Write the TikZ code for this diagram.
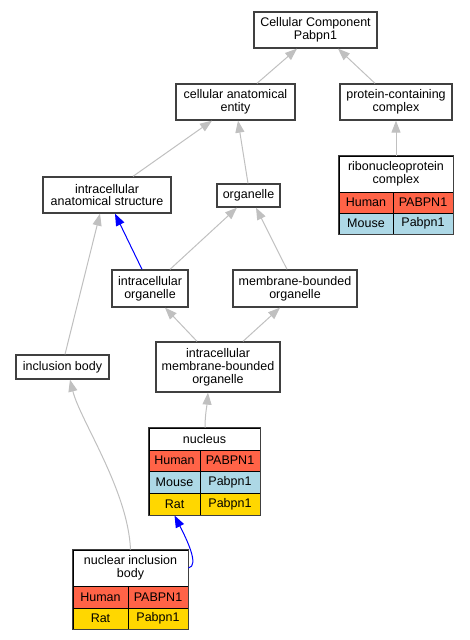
\documentclass[tikz,border=0pt]{standalone}
\usepackage{fontspec}
\setmainfont{Liberation Sans}
\usetikzlibrary{arrows.meta}
\definecolor{edgegray}{HTML}{C0C0C0}
\definecolor{boxborder}{HTML}{404040}
\definecolor{human}{HTML}{FF6347}
\definecolor{mouse}{HTML}{ADD8E6}
\definecolor{rat}{HTML}{FFD700}
\begin{document}
\begin{tikzpicture}[x=1pt,y=-1pt,
  every node/.style={font=\fontsize{12.5}{12.8}\selectfont, inner sep=0pt, align=center},
  box/.style={draw=boxborder, line width=1.3pt, fill=white, rectangle},
  cell/.style={draw=black, line width=0.9pt, rectangle},
  hdr/.style={cell, fill=white},
  hum/.style={cell, fill=human},
  mou/.style={cell, fill=mouse},
  ratc/.style={cell, fill=rat},
  outer/.style={draw=boxborder, line width=1.3pt},
  isa/.style={draw=edgegray, line width=1pt, -{Triangle[length=12pt,width=9pt]}},
  bl/.style={draw=blue, line width=1pt, -{Triangle[length=12pt,width=9pt]}}
]
\useasboundingbox (0,0) rectangle (469,640);

% plain boxes
\node[box, minimum width=123pt, minimum height=36pt] (cc) at (315.5,30) {Cellular Component\\Pabpn1};
\node[box, minimum width=119pt, minimum height=36pt] (cae) at (235.5,102) {cellular anatomical\\entity};
\node[box, minimum width=112pt, minimum height=36pt] (pcc) at (396,102) {protein-containing\\complex};
\node[box, minimum width=128pt, minimum height=36pt] (ias) at (107,195) {intracellular\\anatomical structure};
\node[box, minimum width=63pt, minimum height=23pt] (org) at (248.5,195.5) {organelle};
\node[box, minimum width=76pt, minimum height=37pt] (io) at (150,288.5) {intracellular\\organelle};
\node[box, minimum width=124pt, minimum height=37pt] (mbo) at (295,288.5) {membrane-bounded\\organelle};
\node[box, minimum width=93pt, minimum height=24pt] (ib) at (62.5,367) {inclusion body};
\node[box, minimum width=124pt, minimum height=50pt] (imbo) at (218,367) {intracellular\\membrane-bounded\\organelle};

% ribonucleoprotein complex table
\node[hdr, minimum width=114pt, minimum height=36pt] (rnp) at (396,174) {ribonucleoprotein\\complex};
\node[hum, minimum width=54pt, minimum height=21pt] (rnph1) at (366,202.5) {Human};
\node[hum, minimum width=60pt, minimum height=21pt] (rnph2) at (423,202.5) {PABPN1};
\node[mou, minimum width=54pt, minimum height=21pt] (rnpm1) at (366,223.5) {Mouse};
\node[mou, minimum width=60pt, minimum height=21pt] (rnpm2) at (423,223.5) {Pabpn1};
\draw[outer] (rnp.north west) rectangle (rnpm2.south east);

% nucleus table
\node[hdr, minimum width=111pt, minimum height=22pt] (nuc) at (204.5,439) {nucleus};
\node[hum, minimum width=51pt, minimum height=21pt] (nuch1) at (174.5,460.5) {Human};
\node[hum, minimum width=60pt, minimum height=21pt] (nuch2) at (230,460.5) {PABPN1};
\node[mou, minimum width=51pt, minimum height=22pt] (nucm1) at (174.5,482) {Mouse};
\node[mou, minimum width=60pt, minimum height=22pt] (nucm2) at (230,482) {Pabpn1};
\node[ratc, minimum width=51pt, minimum height=22pt] (nucr1) at (174.5,504) {Rat};
\node[ratc, minimum width=60pt, minimum height=22pt] (nucr2) at (230,504) {Pabpn1};
\draw[outer] (nuc.north west) rectangle (nucr2.south east);

% nuclear inclusion body table
\node[hdr, minimum width=115pt, minimum height=36pt] (nib) at (130.5,568) {nuclear inclusion\\body};
\node[hum, minimum width=55pt, minimum height=22pt] (nibh1) at (100.5,597) {Human};
\node[hum, minimum width=60pt, minimum height=22pt] (nibh2) at (158,597) {PABPN1};
\node[ratc, minimum width=55pt, minimum height=21pt] (nibr1) at (100.5,618.5) {Rat};
\node[ratc, minimum width=60pt, minimum height=21pt] (nibr2) at (158,618.5) {Pabpn1};
\draw[outer] (nib.north west) rectangle (nibr2.south east);

% edges
\draw[isa] ([xshift=21.5pt]cae.north) -- ([xshift=-18.5pt]cc.south);
\draw[isa] ([xshift=-21pt]pcc.north) -- ([xshift=22.5pt]cc.south);
\draw[isa] ([xshift=26pt]ias.north) -- ([xshift=-23.5pt]cae.south);
\draw[isa] ([xshift=-0.5pt]org.north) -- ([xshift=2.5pt]cae.south);
\draw[isa] (rnp.north) -- (pcc.south);
\draw[bl] ([xshift=-8pt]io.north) -- ([xshift=8pt]ias.south);
\draw[isa] ([xshift=20pt]io.north) -- ([xshift=-11.5pt]org.south);
\draw[isa] ([xshift=-8pt]mbo.north) -- ([xshift=7.5pt]org.south);
\draw[isa] ([xshift=2.5pt]ib.north) -- ([xshift=-7pt]ias.south);
\draw[isa] ([xshift=-21pt]imbo.north) -- ([xshift=15pt]io.south);
\draw[isa] ([xshift=25pt]imbo.north) -- ([xshift=-15pt]mbo.south);
\draw[isa] ([xshift=0.5pt]nuc.north) .. controls (205,415) and (207,405) .. ([xshift=-10pt]imbo.south);
\draw[isa] (nib.north) .. controls (128,490) and (80,420) .. ([xshift=7.5pt]ib.south);
\draw[bl] (nib.east) .. controls (200,566) and (186,538) .. (nucr1.south);
\end{tikzpicture}
\end{document}
